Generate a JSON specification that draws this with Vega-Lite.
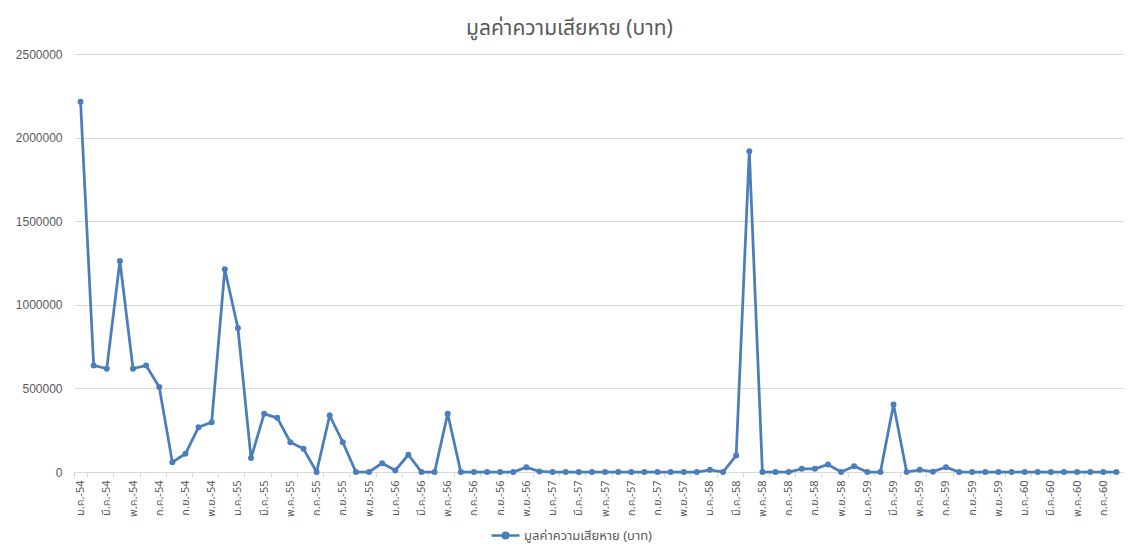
{
  "$schema": "https://vega.github.io/schema/vega-lite/v6.json",
  "autosize": {"type": "none"},
  "padding": {"left": 74, "top": 54, "right": 16, "bottom": 80},
  "width": 1049,
  "height": 418,
  "background": "white",
  "title": {
    "text": "มูลค่าความเสียหาย (บาท)",
    "anchor": "middle",
    "dx": -29,
    "offset": 9,
    "fontSize": 21,
    "fontWeight": "normal",
    "color": "#595959",
    "font": "Tahoma, Noto Sans Thai, Leelawadee UI, sans-serif"
  },
  "data": {
    "values": [
      {"month": "ม.ค.-54", "value": 2214000},
      {"month": "ก.พ.-54", "value": 637000},
      {"month": "มี.ค.-54", "value": 618000},
      {"month": "เม.ย.-54", "value": 1262000},
      {"month": "พ.ค.-54", "value": 618000},
      {"month": "มิ.ย.-54", "value": 637000},
      {"month": "ก.ค.-54", "value": 508000},
      {"month": "ส.ค.-54", "value": 59000},
      {"month": "ก.ย.-54", "value": 109000},
      {"month": "ต.ค.-54", "value": 268000},
      {"month": "พ.ย.-54", "value": 298000},
      {"month": "ธ.ค.-54", "value": 1212000},
      {"month": "ม.ค.-55", "value": 861000},
      {"month": "ก.พ.-55", "value": 83000},
      {"month": "มี.ค.-55", "value": 348000},
      {"month": "เม.ย.-55", "value": 324000},
      {"month": "พ.ค.-55", "value": 178000},
      {"month": "มิ.ย.-55", "value": 139000},
      {"month": "ก.ค.-55", "value": 0},
      {"month": "ส.ค.-55", "value": 338000},
      {"month": "ก.ย.-55", "value": 178000},
      {"month": "ต.ค.-55", "value": 0},
      {"month": "พ.ย.-55", "value": 0},
      {"month": "ธ.ค.-55", "value": 53000},
      {"month": "ม.ค.-56", "value": 9000},
      {"month": "ก.พ.-56", "value": 103000},
      {"month": "มี.ค.-56", "value": 0},
      {"month": "เม.ย.-56", "value": 0},
      {"month": "พ.ค.-56", "value": 348000},
      {"month": "มิ.ย.-56", "value": 0},
      {"month": "ก.ค.-56", "value": 0},
      {"month": "ส.ค.-56", "value": 0},
      {"month": "ก.ย.-56", "value": 0},
      {"month": "ต.ค.-56", "value": 0},
      {"month": "พ.ย.-56", "value": 28000},
      {"month": "ธ.ค.-56", "value": 3000},
      {"month": "ม.ค.-57", "value": 0},
      {"month": "ก.พ.-57", "value": 0},
      {"month": "มี.ค.-57", "value": 0},
      {"month": "เม.ย.-57", "value": 0},
      {"month": "พ.ค.-57", "value": 0},
      {"month": "มิ.ย.-57", "value": 0},
      {"month": "ก.ค.-57", "value": 0},
      {"month": "ส.ค.-57", "value": 0},
      {"month": "ก.ย.-57", "value": 0},
      {"month": "ต.ค.-57", "value": 0},
      {"month": "พ.ย.-57", "value": 0},
      {"month": "ธ.ค.-57", "value": 0},
      {"month": "ม.ค.-58", "value": 13000},
      {"month": "ก.พ.-58", "value": 0},
      {"month": "มี.ค.-58", "value": 99000},
      {"month": "เม.ย.-58", "value": 1919000},
      {"month": "พ.ค.-58", "value": 0},
      {"month": "มิ.ย.-58", "value": 0},
      {"month": "ก.ค.-58", "value": 0},
      {"month": "ส.ค.-58", "value": 19000},
      {"month": "ก.ย.-58", "value": 19000},
      {"month": "ต.ค.-58", "value": 45000},
      {"month": "พ.ย.-58", "value": 0},
      {"month": "ธ.ค.-58", "value": 35000},
      {"month": "ม.ค.-59", "value": 0},
      {"month": "ก.พ.-59", "value": 0},
      {"month": "มี.ค.-59", "value": 404000},
      {"month": "เม.ย.-59", "value": 0},
      {"month": "พ.ค.-59", "value": 13000},
      {"month": "มิ.ย.-59", "value": 2000},
      {"month": "ก.ค.-59", "value": 29000},
      {"month": "ส.ค.-59", "value": 0},
      {"month": "ก.ย.-59", "value": 0},
      {"month": "ต.ค.-59", "value": 0},
      {"month": "พ.ย.-59", "value": 0},
      {"month": "ธ.ค.-59", "value": 0},
      {"month": "ม.ค.-60", "value": 0},
      {"month": "ก.พ.-60", "value": 0},
      {"month": "มี.ค.-60", "value": 0},
      {"month": "เม.ย.-60", "value": 0},
      {"month": "พ.ค.-60", "value": 0},
      {"month": "มิ.ย.-60", "value": 0},
      {"month": "ก.ค.-60", "value": 0},
      {"month": "ส.ค.-60", "value": 0}
    ]
  },
  "mark": {
    "type": "line",
    "strokeWidth": 2.75,
    "point": {"filled": true, "size": 36}
  },
  "encoding": {
    "x": {
      "field": "month",
      "type": "ordinal",
      "sort": null,
      "scale": {"type": "band", "paddingInner": 0, "paddingOuter": 0},
      "axis": {
        "title": null,
        "values": ["ม.ค.-54","มี.ค.-54","พ.ค.-54","ก.ค.-54","ก.ย.-54","พ.ย.-54","ม.ค.-55","มี.ค.-55","พ.ค.-55","ก.ค.-55","ก.ย.-55","พ.ย.-55","ม.ค.-56","มี.ค.-56","พ.ค.-56","ก.ค.-56","ก.ย.-56","พ.ย.-56","ม.ค.-57","มี.ค.-57","พ.ค.-57","ก.ค.-57","ก.ย.-57","พ.ย.-57","ม.ค.-58","มี.ค.-58","พ.ค.-58","ก.ค.-58","ก.ย.-58","พ.ย.-58","ม.ค.-59","มี.ค.-59","พ.ค.-59","ก.ค.-59","ก.ย.-59","พ.ย.-59","ม.ค.-60","มี.ค.-60","พ.ค.-60","ก.ค.-60"],
        "labelAngle": -90,
        "labelAlign": "right",
        "labelBaseline": "middle",
        "labelFontSize": 11,
        "labelColor": "#595959",
        "labelFont": "Tahoma, Noto Sans Thai, Leelawadee UI, sans-serif",
        "labelPadding": 3,
        "labelOverlap": false,
        "tickBand": "extent",
        "tickSize": 5,
        "tickColor": "#d9d9d9",
        "domainColor": "#d9d9d9",
        "grid": false
      }
    },
    "y": {
      "field": "value",
      "type": "quantitative",
      "scale": {"domain": [0, 2500000], "nice": false},
      "axis": {
        "title": null,
        "values": [0, 500000, 1000000, 1500000, 2000000, 2500000],
        "format": "d",
        "domain": false,
        "ticks": false,
        "labelPadding": 12,
        "labelFontSize": 12,
        "labelColor": "#595959",
        "labelFont": "Liberation Sans",
        "gridColor": "#d9d9d9",
        "gridWidth": 1
      }
    },
    "color": {
      "datum": "มูลค่าความเสียหาย (บาท)",
      "scale": {"range": ["#4A7EBB"]},
      "legend": {
        "title": null,
        "orient": "none",
        "legendX": 416,
        "legendY": 466,
        "direction": "horizontal",
        "labelFontSize": 13,
        "labelColor": "#595959",
        "labelFont": "Tahoma, Noto Sans Thai, Leelawadee UI, sans-serif",
        "symbolType": "M -1 0 L 1 0 M -0.2 0 A 0.2 0.2 0 1 0 0.2 0 A 0.2 0.2 0 1 0 -0.2 0",
        "symbolSize": 784,
        "symbolStrokeWidth": 2.5,
        "symbolFillColor": "#4A7EBB",
        "symbolStrokeColor": "#4A7EBB",
        "labelOffset": 3
      }
    }
  },
  "config": {
    "view": {"stroke": null}
  }
}
